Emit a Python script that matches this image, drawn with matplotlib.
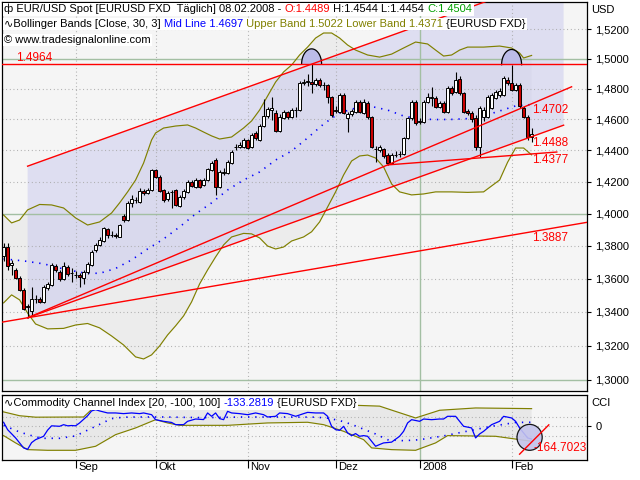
import numpy as np
import pandas as pd
import matplotlib
matplotlib.use('Agg')
import matplotlib.pyplot as plt
import matplotlib.transforms as mtransforms
from matplotlib.patches import Ellipse
from matplotlib.offsetbox import TextArea, HPacker, AnchoredOffsetbox

plt.rcParams['font.family'] = ['Liberation Sans', 'DejaVu Sans']
plt.rcParams['font.size'] = 8

# daily bars 08.08.2007 - 08.02.2008
dates = pd.bdate_range('2007-08-08', '2008-02-08')

opens = [1.3740, 1.3791, 1.3683, 1.3653, 1.3606, 1.3532, 1.3436, 1.3406, 1.3478, 1.3478,
         1.3462, 1.3542, 1.3562, 1.3677, 1.3643, 1.3598, 1.3673, 1.3633, 1.3622, 1.3622,
         1.3602, 1.3639, 1.3683, 1.3775, 1.3806, 1.3832, 1.3905, 1.3868, 1.3868, 1.3857,
         1.3985, 1.3960, 1.4067, 1.4086, 1.4075, 1.4144, 1.4130, 1.4148, 1.4275, 1.4232,
         1.4148, 1.4090, 1.4134, 1.4148, 1.4048, 1.4102, 1.4138, 1.4201, 1.4169, 1.4211,
         1.4180, 1.4211, 1.4275, 1.4338, 1.4169, 1.4258, 1.4254, 1.4317, 1.4419, 1.4419,
         1.4423, 1.4467, 1.4423, 1.4514, 1.4467, 1.4557, 1.4622, 1.4661, 1.4644, 1.4527,
         1.4607, 1.4646, 1.4614, 1.4661, 1.4661, 1.4837, 1.4847, 1.4845, 1.4832, 1.4859,
         1.4825, 1.4825, 1.4744, 1.4657, 1.4650, 1.4759, 1.4607, 1.4635, 1.4650, 1.4716,
         1.4644, 1.4705, 1.4614, 1.4409, 1.4402, 1.4406, 1.4370, 1.4317, 1.4370, 1.4375,
         1.4375, 1.4478, 1.4607, 1.4716, 1.4585, 1.4585, 1.4716, 1.4742, 1.4742, 1.4683,
         1.4709, 1.4650, 1.4807, 1.4781, 1.4863, 1.4771, 1.4652, 1.4642, 1.4612, 1.4423,
         1.4618, 1.4618, 1.4674, 1.4743, 1.4759, 1.4759, 1.4859, 1.4839, 1.4792, 1.4825,
         1.4674, 1.4618, 1.4489]
highs = [1.3820, 1.3818, 1.3714, 1.3665, 1.3616, 1.3544, 1.3448, 1.3548, 1.3502, 1.3490,
         1.3562, 1.3582, 1.3694, 1.3689, 1.3653, 1.3704, 1.3683, 1.3665, 1.3649, 1.3635,
         1.3653, 1.3702, 1.3775, 1.3818, 1.3855, 1.3919, 1.3911, 1.3892, 1.3880, 1.3934,
         1.3998, 1.4079, 1.4117, 1.4104, 1.4161, 1.4155, 1.4161, 1.4281, 1.4281, 1.4243,
         1.4155, 1.4142, 1.4148, 1.4155, 1.4117, 1.4155, 1.4211, 1.4211, 1.4224, 1.4218,
         1.4224, 1.4288, 1.4332, 1.4351, 1.4275, 1.4288, 1.4338, 1.4402, 1.4441, 1.4454,
         1.4480, 1.4473, 1.4512, 1.4525, 1.4570, 1.4733, 1.4681, 1.4746, 1.4661, 1.4635,
         1.4661, 1.4655, 1.4674, 1.4681, 1.4852, 1.4865, 1.4900, 1.4964, 1.4872, 1.4872,
         1.4845, 1.4832, 1.4753, 1.4688, 1.4773, 1.4773, 1.4648, 1.4668, 1.4727, 1.4727,
         1.4733, 1.4720, 1.4622, 1.4428, 1.4434, 1.4415, 1.4383, 1.4383, 1.4396, 1.4396,
         1.4486, 1.4616, 1.4727, 1.4727, 1.4609, 1.4727, 1.4773, 1.4814, 1.4753, 1.4720,
         1.4720, 1.4819, 1.4819, 1.4914, 1.4885, 1.4779, 1.4668, 1.4655, 1.4629, 1.4688,
         1.4681, 1.4759, 1.4773, 1.4792, 1.4805, 1.4885, 1.4878, 1.4960, 1.4839, 1.4839,
         1.4688, 1.4629, 1.4544]
lows = [1.3708, 1.3653, 1.3622, 1.3598, 1.3526, 1.3412, 1.3365, 1.3376, 1.3454, 1.3454,
        1.3454, 1.3532, 1.3556, 1.3641, 1.3586, 1.3592, 1.3616, 1.3582, 1.3602, 1.3550,
        1.3568, 1.3629, 1.3677, 1.3763, 1.3799, 1.3826, 1.3849, 1.3855, 1.3849, 1.3852,
        1.3948, 1.3954, 1.4043, 1.4067, 1.4067, 1.4117, 1.4123, 1.4142, 1.4224, 1.4136,
        1.4073, 1.4079, 1.4035, 1.4048, 1.4041, 1.4092, 1.4130, 1.4167, 1.4161, 1.4161,
        1.4174, 1.4205, 1.4269, 1.4117, 1.4161, 1.4243, 1.4249, 1.4313, 1.4402, 1.4415,
        1.4415, 1.4408, 1.4415, 1.4467, 1.4460, 1.4551, 1.4609, 1.4596, 1.4518, 1.4518,
        1.4603, 1.4603, 1.4609, 1.4616, 1.4655, 1.4825, 1.4819, 1.4774, 1.4819, 1.4812,
        1.4792, 1.4707, 1.4616, 1.4642, 1.4642, 1.4635, 1.4520, 1.4622, 1.4642, 1.4642,
        1.4635, 1.4603, 1.4415, 1.4328, 1.4389, 1.4351, 1.4307, 1.4313, 1.4357, 1.4357,
        1.4370, 1.4473, 1.4596, 1.4564, 1.4570, 1.4577, 1.4707, 1.4688, 1.4674, 1.4674,
        1.4642, 1.4642, 1.4759, 1.4773, 1.4759, 1.4642, 1.4629, 1.4583, 1.4402, 1.4356,
        1.4590, 1.4609, 1.4668, 1.4733, 1.4746, 1.4753, 1.4825, 1.4786, 1.4786, 1.4674,
        1.4609, 1.4467, 1.4454]
closes = [1.3791, 1.3677, 1.3698, 1.3606, 1.3532, 1.3418, 1.3430, 1.3476, 1.3480, 1.3460,
          1.3550, 1.3568, 1.3683, 1.3653, 1.3598, 1.3677, 1.3629, 1.3635, 1.3624, 1.3612,
          1.3643, 1.3689, 1.3765, 1.3806, 1.3837, 1.3909, 1.3868, 1.3869, 1.3858, 1.3929,
          1.3960, 1.4067, 1.4092, 1.4087, 1.4144, 1.4128, 1.4148, 1.4275, 1.4232, 1.4144,
          1.4086, 1.4131, 1.4136, 1.4054, 1.4104, 1.4144, 1.4199, 1.4174, 1.4211, 1.4169,
          1.4211, 1.4281, 1.4319, 1.4169, 1.4264, 1.4260, 1.4328, 1.4391, 1.4421, 1.4434,
          1.4467, 1.4413, 1.4499, 1.4478, 1.4557, 1.4622, 1.4668, 1.4674, 1.4527, 1.4618,
          1.4650, 1.4614, 1.4661, 1.4663, 1.4837, 1.4847, 1.4850, 1.4832, 1.4859, 1.4825,
          1.4823, 1.4744, 1.4629, 1.4659, 1.4759, 1.4640, 1.4635, 1.4657, 1.4716, 1.4646,
          1.4716, 1.4614, 1.4423, 1.4411, 1.4419, 1.4364, 1.4317, 1.4370, 1.4372, 1.4377,
          1.4478, 1.4607, 1.4716, 1.4575, 1.4588, 1.4716, 1.4748, 1.4744, 1.4683, 1.4709,
          1.4650, 1.4807, 1.4771, 1.4859, 1.4771, 1.4650, 1.4642, 1.4603, 1.4423, 1.4672,
          1.4661, 1.4748, 1.4759, 1.4781, 1.4789, 1.4872, 1.4839, 1.4792, 1.4825, 1.4688,
          1.4618, 1.4486, 1.4504]

# Bollinger Bands [Close, 30, 3]
bb_up_idx = [0, 2, 4, 6, 9, 12, 15, 18, 21, 24, 27, 29, 31, 33, 35, 37, 38, 40, 43, 46,
             48, 50, 52, 54, 57, 60, 62, 64, 66, 68, 70, 72, 74, 76, 78, 80, 82, 84, 86, 88,
             91, 94, 97, 100, 103, 106, 108, 110, 112, 114, 116, 120, 124, 127, 129, 130, 132]
bb_up = [1.3991, 1.3942, 1.3960, 1.4023, 1.4057, 1.4054, 1.4035, 1.3973, 1.3929, 1.3948,
         1.4004, 1.4067, 1.4136, 1.4211, 1.4319, 1.4467, 1.4512, 1.4544, 1.4557, 1.4564,
         1.4544, 1.4518, 1.4493, 1.4473, 1.4486, 1.4544, 1.4590, 1.4661, 1.4753, 1.4845,
         1.4912, 1.4958, 1.5025, 1.5078, 1.5139, 1.5173, 1.5173, 1.5139, 1.5092, 1.5058,
         1.5025, 1.5011, 1.5031, 1.5072, 1.5112, 1.5099, 1.5058, 1.5018, 1.5025, 1.5058,
         1.5078, 1.5078, 1.5085, 1.5072, 1.5038, 1.5005, 1.5022]
bb_lo_idx = [0, 2, 4, 6, 8, 11, 15, 18, 21, 24, 27, 30, 33, 35, 37, 39, 41, 43, 45, 47,
             49, 51, 53, 55, 57, 60, 62, 64, 66, 68, 70, 72, 75, 77, 79, 81, 83, 85, 87, 89,
             91, 93, 95, 97, 99, 102, 105, 108, 112, 116, 120, 124, 126, 128, 130, 132]
bb_lo = [1.3454, 1.3502, 1.3472, 1.3393, 1.3328, 1.3299, 1.3302, 1.3322, 1.3331, 1.3305,
         1.3257, 1.3204, 1.3134, 1.3122, 1.3146, 1.3198, 1.3263, 1.3317, 1.3376, 1.3460,
         1.3568, 1.3653, 1.3732, 1.3806, 1.3855, 1.3877, 1.3874, 1.3849, 1.3799, 1.3781,
         1.3793, 1.3830, 1.3855, 1.3887, 1.3948, 1.4041, 1.4136, 1.4243, 1.4332, 1.4364,
         1.4370, 1.4351, 1.4294, 1.4186, 1.4136, 1.4117, 1.4123, 1.4136, 1.4136, 1.4133,
         1.4136, 1.4211, 1.4324, 1.4415, 1.4415, 1.4371]
bb_mid_idx = [0, 5, 10, 15, 20, 24, 28, 32, 36, 40, 44, 48, 52, 56, 60, 64, 68, 72, 76, 80,
              84, 88, 92, 96, 100, 104, 108, 112, 116, 120, 124, 128, 132]
bb_mid = [1.3720, 1.3708, 1.3690, 1.3659, 1.3635, 1.3632, 1.3662, 1.3714, 1.3781, 1.3843,
          1.3917, 1.3998, 1.4067, 1.4148, 1.4211, 1.4262, 1.4338, 1.4396, 1.4480, 1.4570,
          1.4642, 1.4674, 1.4684, 1.4661, 1.4622, 1.4603, 1.4599, 1.4600, 1.4605, 1.4622,
          1.4655, 1.4688, 1.4697]

# CCI [20, -100, 100] with its own bands
cci_idx = [0, 1, 3, 5, 6, 7, 8, 10, 11, 12, 14, 15, 16, 17, 18, 19, 21, 22, 23, 24,
           26, 28, 30, 32, 34, 35, 37, 38, 40, 42, 43, 45, 46, 48, 50, 51, 52, 53, 54, 55,
           56, 57, 59, 61, 63, 65, 66, 68, 69, 71, 73, 75, 76, 78, 80, 81, 82, 83, 84, 85,
           86, 87, 88, 89, 90, 91, 92, 93, 94, 95, 97, 99, 100, 101, 102, 104, 105, 107, 109, 110,
           111, 113, 114, 115, 117, 118, 119, 120, 121, 122, 124, 125, 127, 128, 129, 130, 131, 132]
cci = [42, -35, -121, -225, -240, -170, -139, -104, -40, 5, 0, 17, 5, 8, 5, 35, 110, 160, 173, 160,
       139, 139, 132, 139, 132, 139, 121, 69, 52, 40, 17, 17, 52, 76, 70, 139, 104, 139, 80, 69,
       156, 139, 132, 121, 139, 121, 97, 104, 139, 132, 104, 132, 145, 139, 139, 104, 0, -35, -42, 0,
       -69, -97, -76, -104, -97, -104, -156, -208, -190, -173, -165, -104, -52, 35, 69, 52, 76, 69, 76, 76,
       104, 104, 52, 0, -17, -121, -80, -52, -17, 17, 52, 104, 87, 52, -17, -69, -121, -133.2819]
cci_mid_idx = [0, 4, 8, 10, 14, 18, 20, 22, 24, 27, 30, 34, 40, 50, 60, 70, 78, 81, 84, 87,
               90, 93, 96, 100, 104, 110, 116, 122, 128, 132]
cci_mid = [10, -60, -110, -125, -125, -100, -60, -20, 20, 80, 95, 97, 97, 90, 97, 97, 95, 85, 60, 20,
           -30, -80, -140, -150, -140, -100, -50, 0, 40, 42]
cci_up_idx = [0, 4, 8, 20, 22, 30, 40, 50, 60, 70, 80, 87, 94, 98, 103, 109, 118, 132]
cci_up = [150, 110, 95, 97, 175, 205, 200, 210, 215, 210, 210, 220, 210, 155, 87, 167, 191, 184]
cci_lo_idx = [0, 3, 6, 11, 18, 23, 28, 33, 38, 41, 44, 56, 66, 76, 80, 85, 90, 92, 97, 103,
              108, 111, 123, 132]
cci_lo = [-97, -173, -243, -250, -250, -208, -87, -17, 69, 35, 10, 10, 35, 42, 17, -52, -139, -225, -243, -250,
          -173, -97, -104, -156]

# trendline values at the last bar (labels on the chart)
line_s_end = 1.4702
line_m_end = 1.4488
line_d_end = 1.4377
line_f_end = 1.3887
top_level = 1.4964
cci_line_end = -164.7023

price_ticks = np.round(np.arange(1.30, 1.5201, 0.02), 2)
month_names = ['Sep', 'Okt', 'Nov', 'Dez', '2008', 'Feb']

o = np.array(opens); h = np.array(highs); l = np.array(lows); c = np.array(closes)
x = np.arange(len(dates))
n = len(dates)
month_idx = [i for i in range(1, n) if dates[i].month != dates[i - 1].month]

GREEN = '#a3bfa3'
GRID = '#a8a8a8'
OLIVE = '#808000'
BG = '#f5f5f5'
red = '#ff0000'

fig = plt.figure(figsize=(6.4, 4.8), dpi=100)
ax = fig.add_axes([2 / 640, 89 / 480, 585 / 640, 389 / 480])
cax = fig.add_axes([2 / 640, 20 / 480, 585 / 640, 65 / 480])
for a in (ax, cax):
    a.set_facecolor(BG)
    a.set_xlim(-0.4, 145.85)
    for s in a.spines.values():
        s.set_linewidth(0.9)
        s.set_color('black')

ax.set_yscale('log')
ax.set_ylim(1.2936, 1.5384)


def trend(i0, p0, i1, p1, a, b):
    k = (np.log(p1) - np.log(p0)) / (i1 - i0)
    xs = np.array([a, b])
    return xs, np.exp(np.log(p0) + k * (xs - i0))


# bollinger area
ax.fill(np.concatenate([bb_up_idx, bb_lo_idx[::-1]]), np.concatenate([bb_up, bb_lo[::-1]]),
        color='#ececec', lw=0, zorder=0.5)

# channel
xs_m, ys_m = trend(6, l[6], n - 1, line_m_end, 6, 140)
k_m = (np.log(line_m_end) - np.log(l[6])) / (n - 1 - 6)
ys_t = np.exp(np.log(h[77]) + k_m * (xs_m - 77))
ax.fill([6, 140, 140, 6], [ys_t[0], ys_t[1], ys_m[1], ys_m[0]], color='#c8c8ee', alpha=0.5,
        lw=0, zorder=0.6)

# grid
for t in price_ticks:
    if round(t * 10, 4) == round(t * 10):
        ax.axhline(t, color=GREEN, lw=1.0, zorder=0.8)
    else:
        ax.axhline(t, color=GRID, lw=0.8, ls=(0, (0.8, 2.5)), zorder=0.8)
for i, m in zip(month_idx, month_names):
    for a in (ax, cax):
        if m == '2008':
            a.axvline(i, color=GREEN, lw=1.0, zorder=0.8)
        else:
            a.axvline(i, color=GRID, lw=0.8, ls=(0, (0.8, 2.5)), zorder=0.8)

# bands
ax.plot(bb_up_idx, bb_up, color=OLIVE, lw=0.85, zorder=1)
ax.plot(bb_lo_idx, bb_lo, color=OLIVE, lw=0.85, zorder=1)
ax.plot(bb_mid_idx, bb_mid, color='#0000ff', lw=1.2, ls=(0, (0.8, 3.5)), zorder=1)

# double top arcs
for hi in (77, 127):
    t = np.linspace(0, np.pi, 40)
    arc_x = hi + 2.5 * np.cos(t)
    arc_y = h[hi] * np.exp(0.0068 * np.sin(t))
    ax.fill(arc_x, arc_y, color='#bcbce8', lw=0, zorder=1.2)
    ax.plot(arc_x, arc_y, color='black', lw=0.9, zorder=1.3)

# candles
ax.vlines(x, l, h, color='black', lw=0.8, zorder=2)
body_col = np.where(c >= o, 'white', '#c80000')
ax.bar(x, np.maximum(np.abs(c - o), 0.00015), bottom=np.minimum(o, c), width=0.75,
       color=body_col, edgecolor='black', linewidth=0.7, zorder=2.1)

# trendlines
ax.axhline(top_level, color=red, lw=1.0, zorder=3)
for end, stop in ((line_s_end, 142), (line_m_end, 140)):
    xs, ys = trend(6, l[6], n - 1, end, 6, stop)
    ax.plot(xs, ys, color=red, lw=1.0, zorder=3)
xs, ys = trend(6, l[6], n - 1, line_f_end, -1, 147)
ax.plot(xs, ys, color=red, lw=1.0, zorder=3)
ax.plot(xs_m, ys_t, color=red, lw=1.0, zorder=3)
xs, ys = trend(96, l[96], n - 1, line_d_end, 96, 138.3)
ax.plot(xs, ys, color=red, lw=1.0, zorder=3)

for v in (line_s_end, line_m_end, line_d_end, line_f_end):
    ax.text(n - 1 + 0.2, v, f'{v:.4f}', color=red, fontsize=8.5, ha='left', va='top', zorder=4)
ax.text(3, top_level, f'{top_level:.4f}', color=red, fontsize=8.5, ha='left', va='bottom', zorder=4)

# y axis
ax.yaxis.tick_right()
ax.yaxis.set_minor_locator(matplotlib.ticker.NullLocator())
ax.set_yticks(price_ticks)
ax.set_yticklabels([f'{t:.4f}'.replace('.', ',') for t in price_ticks])
ax.tick_params(axis='y', direction='out', length=3, width=0.8, pad=3, labelsize=8)
ax.set_xticks([])
fig.text(591 / 640, 1 - 10 / 480, 'USD', fontsize=8, va='center', ha='left')

# CCI panel
cax.set_ylim(-351, 326)
for v in (-100, 0, 100):
    cax.axhline(v, color=GRID, lw=0.8, ls=(0, (0.8, 2.5)), zorder=0.8)
cax.fill(np.concatenate([cci_up_idx, cci_lo_idx[::-1]]), np.concatenate([cci_up, cci_lo[::-1]]),
         color='#e8e8e8', lw=0, zorder=0.5)
cax.plot(cci_up_idx, cci_up, color=OLIVE, lw=0.85, zorder=1)
cax.plot(cci_lo_idx, cci_lo, color=OLIVE, lw=0.85, zorder=1)
cax.plot(cci_mid_idx, cci_mid, color='#0000ff', lw=1.2, ls=(0, (0.8, 3.5)), zorder=1)
cax.plot(cci_idx, cci, color='#0000ff', lw=0.9, zorder=2)
cax.add_patch(Ellipse((n - 1.5, -115), 6.3, 270, facecolor='#c4c4ec', edgecolor='black',
                      lw=0.9, alpha=0.9, zorder=2.5))
k = (cci_line_end + 290) / 3.0
cx = np.array([n - 4, n + 3.3])
cax.plot(cx, cci_line_end + k * (cx - (n - 1)), color=red, lw=1.0, zorder=3)
cax.text(n - 1 + 0.4, cci_line_end, f'{cci_line_end:.4f}', color=red, fontsize=8.5,
         ha='left', va='top', zorder=4)
cax.yaxis.tick_right()
cax.set_yticks([0])
cax.set_yticklabels(['0'])
cax.tick_params(axis='y', direction='out', length=3, width=0.8, pad=3, labelsize=8)
fig.text(591 / 640, 1 - 403 / 480, 'CCI', fontsize=8, va='center', ha='left')

cax.set_xticks(month_idx)
cax.set_xticklabels([])
cax.tick_params(axis='x', direction='out', length=6, width=0.8)
tr = mtransforms.offset_copy(mtransforms.blended_transform_factory(cax.transData, cax.transAxes),
                             fig=fig, x=3, y=-2, units='dots')
for i, m in zip(month_idx, month_names):
    cax.text(i, 0, m, transform=tr, ha='left', va='top', fontsize=8)


def label_row(parts, x_px, top_px):
    areas = [TextArea(s, textprops=dict(color=col, fontsize=8)) for s, col in parts]
    box = HPacker(children=areas, align='baseline', pad=0, sep=0)
    ab = AnchoredOffsetbox(loc='upper left', child=box, pad=0.12, borderpad=0, frameon=True,
                           bbox_to_anchor=(x_px / 640, 1 - top_px / 480),
                           bbox_transform=fig.transFigure)
    ab.patch.set_facecolor('white')
    ab.patch.set_edgecolor('none')
    ab.set_zorder(10)
    fig.add_artist(ab)


label_row([('ф EUR/USD Spot [EURUSD FXD  Täglich] 08.02.2008 - ', 'black'),
           (f'O:{opens[-1]:.4f}', '#ff0000'),
           (f' H:{highs[-1]:.4f} L:{lows[-1]:.4f} ', 'black'),
           (f'C:{closes[-1]:.4f}', '#00a000')], 3, 2.5)
label_row([('∿Bollinger Bands [Close, 30, 3] ', 'black'),
           (f'Mid Line {bb_mid[-1]:.4f}', '#0000ff'),
           (f' Upper Band {bb_up[-1]:.4f} Lower Band {bb_lo[-1]:.4f}', OLIVE),
           (' {EURUSD FXD}', 'black')], 3, 17.5)
label_row([('© www.tradesignalonline.com', 'black')], 3, 33.5)
label_row([('∿Commodity Channel Index [20, -100, 100] ', 'black'),
           (f'{cci[-1]:.4f}', '#0000ff'),
           (' {EURUSD FXD}', 'black')], 3, 397)

fig.savefig('out.png', dpi=100)
